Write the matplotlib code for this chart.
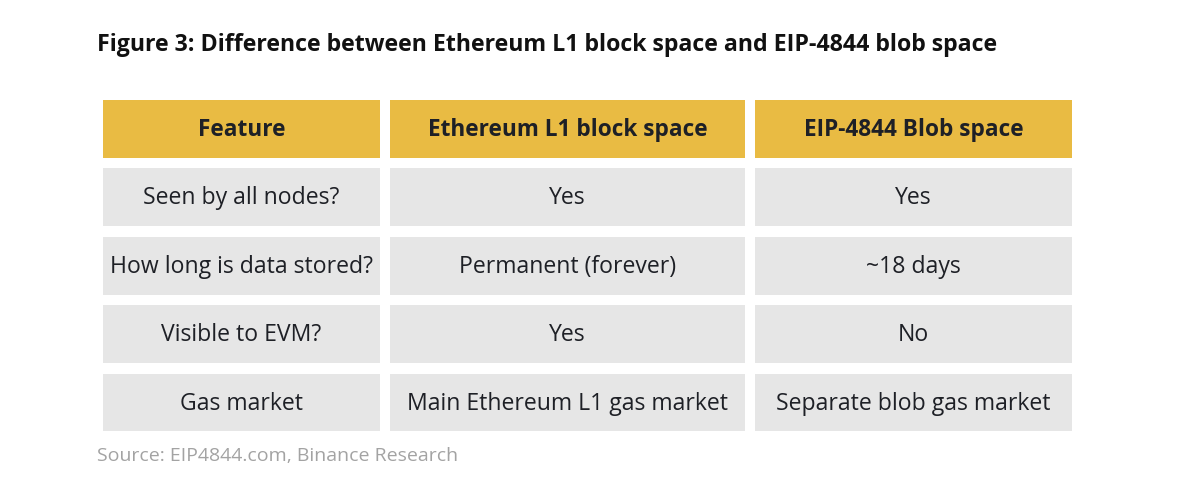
import matplotlib
matplotlib.use("Agg")
import matplotlib.pyplot as plt
from matplotlib.patches import Rectangle

title = "Figure 3: Difference between Ethereum L1 block space and EIP-4844 blob space"
headers = ["Feature", "Ethereum L1 block space", "EIP-4844 Blob space"]
features = ["Seen by all nodes?", "How long is data stored?", "Visible to EVM?", "Gas market"]
l1_values = ["Yes", "Permanent (forever)", "Yes", "Main Ethereum L1 gas market"]
blob_values = ["Yes", "~18 days", "No", "Separate blob gas market"]
source = "Source: EIP4844.com, Binance Research"

W, H = 1200, 491
fig = plt.figure(figsize=(W / 100, H / 100), dpi=100)
ax = fig.add_axes([0, 0, 1, 1])
ax.set_xlim(0, W)
ax.set_ylim(H, 0)
ax.axis("off")

font = ["Open Sans", "DejaVu Sans"]
col_x = [(103, 380), (390, 745), (755, 1072)]
row_y = [(100, 158), (168, 226), (237, 295), (305, 363), (374, 431)]
gold = "#E9BB43"
grey = "#E6E6E6"
txt = "#1E2026"

rows = [headers] + [list(r) for r in zip(features, l1_values, blob_values)]
for ri, (y0, y1) in enumerate(row_y):
    for ci, (x0, x1) in enumerate(col_x):
        ax.add_patch(Rectangle((x0, y0), x1 - x0, y1 - y0,
                               facecolor=gold if ri == 0 else grey, edgecolor="none"))
        ax.text((x0 + x1) / 2, (y0 + y1) / 2 + 1, rows[ri][ci], ha="center", va="center",
                fontsize=16.3 if ri == 0 else 16.6,
                fontweight="bold" if ri == 0 else "normal",
                color=txt, family=font)

ax.text(97, 45, title, ha="left", va="center", fontsize=16.7, fontweight="bold",
        color="#111111", family=font)
ax.text(97, 456, source, ha="left", va="center", fontsize=14, color="#A3A3A3", family=font)

fig.savefig("out.png", dpi=100)
